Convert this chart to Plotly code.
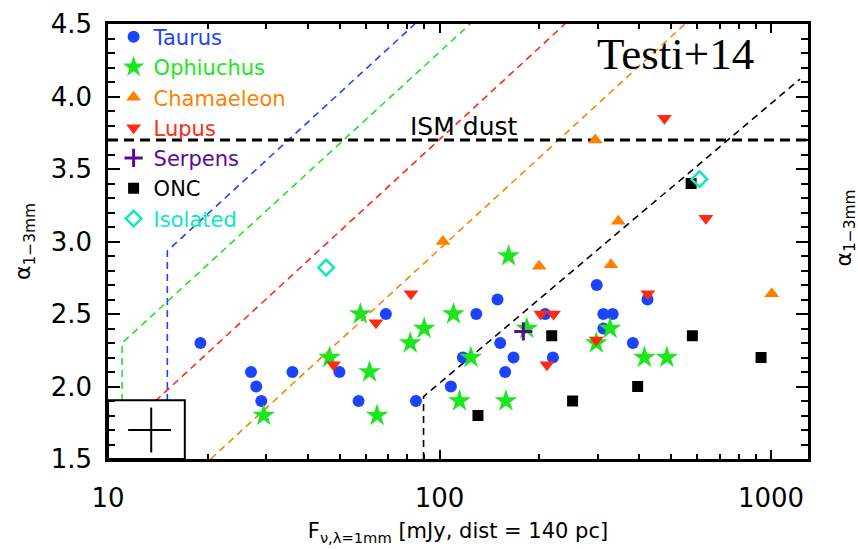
import plotly.graph_objects as go
import math

# ---------------- data ----------------
taurus_f = [19.0, 27.0, 28.0, 29.0, 36.0, 68.9, 149.6, 129.1, 152.4, 208.3, 49.9, 117.6,
            167.2, 157.8, 219.8, 108.2, 57.0, 84.9, 298.0, 424.0, 312.0, 333.0, 312.0, 383.0]
taurus_a = [2.30, 2.10, 2.00, 1.90, 2.10, 2.50, 2.60, 2.50, 2.30, 2.50, 2.10, 2.20,
            2.20, 2.10, 2.20, 2.00, 1.90, 1.90, 2.70, 2.60, 2.50, 2.50, 2.40, 2.30]

oph_f = [29.5, 161.5, 57.7, 110.2, 89.9, 81.6, 183.4, 46.6, 61.5, 124.4, 114.9, 158.6,
         64.8, 327.0, 297.0, 415.0, 485.0]
oph_a = [1.80, 2.90, 2.50, 2.50, 2.40, 2.30, 2.40, 2.20, 2.10, 2.20, 1.90, 1.90,
         1.80, 2.40, 2.30, 2.20, 2.20]

cha_f = [102.4, 199.8, 329.0, 1005.0, 295.0, 346.0]
cha_a = [3.00, 2.83, 2.84, 2.64, 3.70, 3.14]

lup_f = [82.0, 64.3, 202.0, 220.7, 47.9, 210.8, 425.0, 297.0, 477.0, 636.0]
lup_a = [2.64, 2.44, 2.50, 2.50, 2.15, 2.15, 2.64, 2.32, 3.85, 3.16]

ser_f = [179.0]
ser_a = [2.38]

onc_f = [218.0, 130.6, 252.0, 579.0, 933.0, 396.0, 574.0]
onc_a = [2.35, 1.80, 1.90, 2.35, 2.20, 2.00, 3.40]

iso_f = [45.5, 608.0]
iso_a = [2.82, 3.43]

# sensitivity-limit lines (vertices)
blue_lim_f = [15.1, 15.1, 84.3]
blue_lim_a = [1.90, 2.935, 4.50]
green_lim_f = [11.03, 11.03, 123.7]
green_lim_a = [1.90, 2.30, 4.50]
red_lim_f = [13.9, 239.0]
red_lim_a = [1.90, 4.50]
orange_lim_f = [20.4, 550.0]
orange_lim_a = [1.50, 4.50]
black_lim_f = [89.5, 89.5, 1223.0]
black_lim_a = [1.50, 1.93, 4.12]

ism_alpha = 3.7
ism_f = [10.0, 1300.0]

# typical error bar (box in lower left)
err_f = [13.5]
err_a = [1.70]
err_f_plus = [2.0]
err_f_minus = [2.0]
err_a_size = [0.155]
box_f = [10.0, 17.05]
box_a = [1.5, 1.905]

x_range_log = [1.0, 3.1115]
y_range = [1.5, 4.5]
y_ticks = [1.5, 2.0, 2.5, 3.0, 3.5, 4.0, 4.5]
y_ticktext = ["1.5", "2.0", "2.5", "3.0", "3.5", "4.0", "4.5"]
x_ticks = [10, 100, 1000]
x_ticktext = ["10", "100", "1000"]

# ---------------- style ----------------
C_TAU = "#1c44ff"
C_OPH = "#1ee61e"
C_CHA = "#ff8000"
C_LUP = "#ff2a10"
C_SER = "#5a0a96"
C_ONC = "#000000"
C_ISO = "#10e6c0"
FONT = "DejaVu Sans"

fig = go.Figure()

def limline(xs, ys, color):
    fig.add_trace(go.Scatter(x=xs, y=ys, mode="lines", showlegend=False, hoverinfo="skip",
                             line=dict(color=color, width=1.6, dash="7px,5px")))

limline(blue_lim_f, blue_lim_a, C_TAU)
limline(green_lim_f, green_lim_a, C_OPH)
limline(red_lim_f, red_lim_a, C_LUP)
limline(orange_lim_f, orange_lim_a, C_CHA)
limline(black_lim_f, black_lim_a, "black")

fig.add_trace(go.Scatter(x=ism_f, y=[ism_alpha, ism_alpha], mode="lines", showlegend=False,
                         hoverinfo="skip", line=dict(color="black", width=3, dash="10px,6px")))

def lab(text, color):
    return '<span style="color:%s">%s</span>' % (color, text)

fig.add_trace(go.Scatter(x=taurus_f, y=taurus_a, mode="markers", name=lab("Taurus", C_TAU),
                         marker=dict(symbol="circle", size=12, color=C_TAU)))
fig.add_trace(go.Scatter(x=oph_f, y=oph_a, mode="markers", name=lab("Ophiuchus", C_OPH),
                         marker=dict(symbol="star", size=17, color=C_OPH)))
fig.add_trace(go.Scatter(x=cha_f, y=cha_a, mode="markers", name=lab("Chamaeleon", C_CHA),
                         marker=dict(symbol="triangle-up", size=13, color=C_CHA)))
fig.add_trace(go.Scatter(x=lup_f, y=lup_a, mode="markers", name=lab("Lupus", C_LUP),
                         marker=dict(symbol="triangle-down", size=13, color=C_LUP)))
fig.add_trace(go.Scatter(x=ser_f, y=ser_a, mode="markers", name=lab("Serpens", C_SER),
                         marker=dict(symbol="cross-thin", size=13, color=C_SER,
                                     line=dict(color=C_SER, width=3))))
fig.add_trace(go.Scatter(x=onc_f, y=onc_a, mode="markers", name=lab("ONC", C_ONC),
                         marker=dict(symbol="square", size=11, color=C_ONC)))
fig.add_trace(go.Scatter(x=iso_f, y=iso_a, mode="markers", name=lab("Isolated", C_ISO),
                         marker=dict(symbol="diamond-open", size=12, color=C_ISO,
                                     line=dict(color=C_ISO, width=2.5))))

# typical uncertainty cross
fig.add_trace(go.Scatter(x=err_f, y=err_a, mode="markers", showlegend=False, hoverinfo="skip",
                         marker=dict(size=1, color="rgba(0,0,0,0)"),
                         error_x=dict(type="data", symmetric=False, array=err_f_plus,
                                      arrayminus=err_f_minus, width=0, thickness=2, color="black"),
                         error_y=dict(type="data", array=err_a_size, width=0, thickness=2,
                                      color="black")))

# invisible trace to carry the mirrored (top/right) tick axes
fig.add_trace(go.Scatter(x=[err_f[0]], y=[err_a[0]], xaxis="x2", yaxis="y2", mode="markers",
                         showlegend=False, hoverinfo="skip",
                         marker=dict(size=1, color="rgba(0,0,0,0)")))

fig.add_shape(type="rect", xref="x", yref="y", x0=box_f[0], x1=box_f[1], y0=box_a[0], y1=box_a[1],
              line=dict(color="black", width=2), layer="above")

fig.add_annotation(x=math.log10(118), y=3.79, xref="x", yref="y", text="ISM dust", showarrow=False,
                   xanchor="center", yanchor="middle",
                   font=dict(family=FONT, size=25, color="black"))
fig.add_annotation(x=0.811, y=0.931, xref="paper", yref="paper", text="Testi+14", showarrow=False,
                   xanchor="center", yanchor="middle",
                   font=dict(family="Liberation Serif", size=45, color="black"))
fig.add_annotation(x=1.053, y=0.53, xref="paper", yref="paper", text="α<sub>1−3mm</sub>",
                   textangle=-90, showarrow=False, xanchor="center", yanchor="middle",
                   font=dict(family=FONT, size=22, color="black"))

tick_common = dict(ticks="inside", tickcolor="black", tickwidth=2, showgrid=False, zeroline=False)
line_common = dict(showline=True, linecolor="black", linewidth=2.5, mirror=True)
tickfont = dict(family=FONT, size=26, color="black")

xminor = dict(ticks="inside", ticklen=5, tickwidth=2, tickcolor="black", dtick="D1", showgrid=False)
yminor = dict(ticks="inside", ticklen=7, tickwidth=2, tickcolor="black", dtick=0.1, showgrid=False)

fig.update_layout(
    xaxis=dict(type="log", range=x_range_log, ticklen=9, tickvals=x_ticks, ticktext=x_ticktext,
               minor=xminor, ticklabelstandoff=14, tickfont=tickfont,
               title=dict(text="F<sub>ν,λ=1mm</sub> [mJy, dist = 140 pc]", standoff=12,
                          font=dict(family=FONT, size=21, color="black")),
               **tick_common, **line_common),
    yaxis=dict(range=y_range, ticklen=12, tickvals=y_ticks, ticktext=y_ticktext,
               minor=yminor, ticklabelstandoff=8, tickfont=tickfont,
               title=dict(text="α<sub>1−3mm</sub>", standoff=14,
                          font=dict(family=FONT, size=22, color="black")),
               **tick_common, **line_common),
    xaxis2=dict(type="log", range=x_range_log, overlaying="x", side="top", anchor="y",
                ticklen=9, tickvals=x_ticks, showticklabels=False, minor=xminor, **tick_common),
    yaxis2=dict(range=y_range, overlaying="y", side="right", anchor="x",
                ticklen=12, tickvals=y_ticks, showticklabels=False, minor=yminor, **tick_common),
    width=858, height=549,
    margin=dict(l=108, r=50, t=9, b=82),
    paper_bgcolor="white", plot_bgcolor="white",
    legend=dict(x=0.008, y=1.017, xanchor="left", yanchor="top", bgcolor="rgba(0,0,0,0)",
                font=dict(family=FONT, size=21), itemsizing="trace", tracegroupgap=0),
    showlegend=True,
)

fig.write_html("out.html", config={"displayModeBar": False},
               post_script="document.body.style.margin='0px';document.body.style.overflow='hidden';")
